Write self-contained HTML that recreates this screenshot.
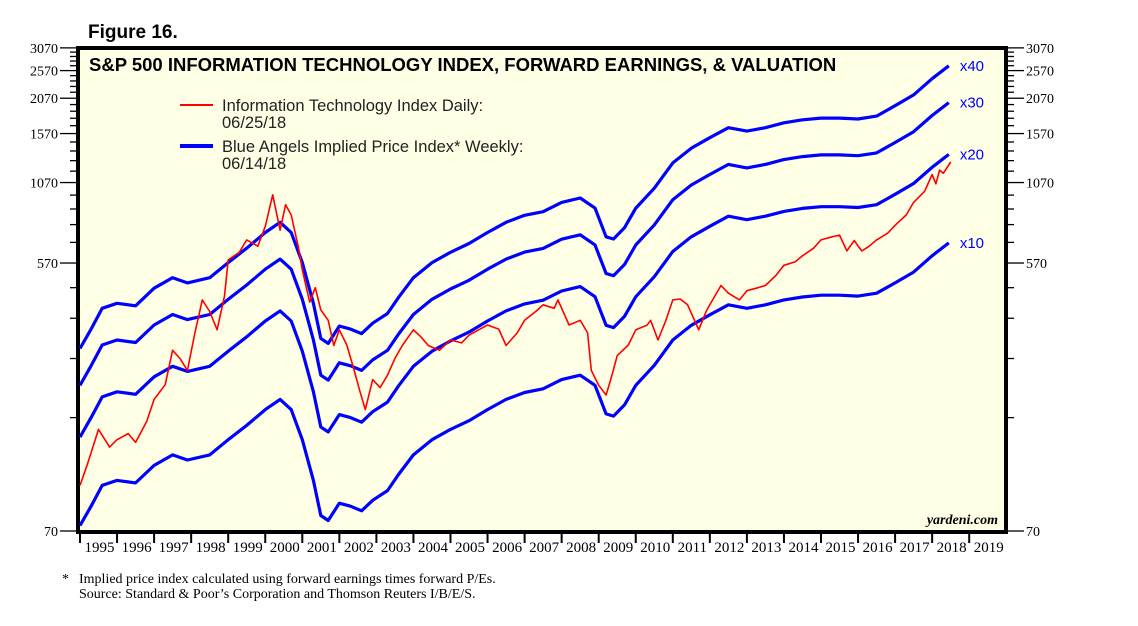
<!DOCTYPE html>
<html><head><meta charset="utf-8"><style>
body{margin:0;background:#fff;}
svg text{font-family:"Liberation Sans",sans-serif;}
.serif{font-family:"Liberation Serif",serif !important;}
</style></head><body>
<svg width="1138" height="621" viewBox="0 0 1138 621">
<text x="88" y="38" font-size="19" font-weight="bold">Figure 16.</text>
<rect x="78" y="48" width="928" height="484" fill="#ffffe6" stroke="#000" stroke-width="4"/>
<text x="89" y="71" font-size="18.5" font-weight="bold">S&amp;P 500 INFORMATION TECHNOLOGY INDEX, FORWARD EARNINGS, &amp; VALUATION</text>
<g>
<line x1="180" y1="105" x2="213" y2="105" stroke="#f00" stroke-width="2"/>
<text x="222" y="111" font-size="16.5" fill="#222">Information Technology Index Daily:</text>
<text x="222" y="128" font-size="16.5" fill="#222">06/25/18</text>
<line x1="180" y1="146" x2="213" y2="146" stroke="#00f" stroke-width="4"/>
<text x="222" y="152" font-size="16.5" fill="#222">Blue Angels Implied Price Index* Weekly:</text>
<text x="222" y="169" font-size="16.5" fill="#222">06/14/18</text>
</g>
<g id="axes"></g>
<g id="series"></g>
<text x="998" y="524" font-size="14" font-style="italic" font-weight="bold" text-anchor="end" class="serif">yardeni.com</text>
<text x="62" y="583" font-size="14" class="serif">*</text>
<text x="79" y="583" font-size="14" class="serif">Implied price index calculated using forward earnings times forward P/Es.</text>
<text x="79" y="598" font-size="14" class="serif">Source: Standard &amp; Poor’s Corporation and Thomson Reuters I/B/E/S.</text>
</svg>
<script>
const yTickLabels=[70,570,1070,1570,2070,2570,3070];
const xYears=[1995,1996,1997,1998,1999,2000,2001,2002,2003,2004,2005,2006,2007,2008,2009,2010,2011,2012,2013,2014,2015,2016,2017,2018,2019];
const multiples=[10,20,30,40];
const earnT=[1995.0,1995.3,1995.6,1996.0,1996.5,1997.0,1997.5,1997.9,1998.5,1999.0,1999.5,2000.0,2000.4,2000.7,2001.0,2001.3,2001.5,2001.7,2002.0,2002.3,2002.6,2002.9,2003.3,2003.6,2004.0,2004.5,2005.0,2005.5,2006.0,2006.5,2007.0,2007.5,2008.0,2008.5,2008.9,2009.2,2009.4,2009.7,2010.0,2010.5,2011.0,2011.5,2012.0,2012.5,2013.0,2013.5,2014.0,2014.5,2015.0,2015.5,2016.0,2016.5,2017.0,2017.5,2018.0,2018.45];
const earnV=[7.3,8.5,10.0,10.4,10.2,11.7,12.7,12.2,12.7,14.3,16.0,18.1,19.6,18.1,14.3,10.4,7.9,7.6,8.7,8.5,8.2,8.9,9.6,10.9,12.7,14.3,15.5,16.6,18.1,19.6,20.7,21.3,22.9,23.7,21.9,17.5,17.2,18.8,21.9,25.6,31.2,35.0,38.0,41.1,40.0,41.1,42.7,43.7,44.3,44.3,44.0,45.0,48.8,53.1,60.3,66.7];
const itT=[1995.0,1995.2,1995.5,1995.8,1996.0,1996.3,1996.5,1996.8,1997.0,1997.3,1997.5,1997.7,1997.9,1998.1,1998.3,1998.5,1998.7,1998.9,1999.0,1999.3,1999.5,1999.8,2000.0,2000.2,2000.4,2000.55,2000.7,2000.9,2001.0,2001.2,2001.35,2001.5,2001.7,2001.85,2002.0,2002.2,2002.4,2002.55,2002.7,2002.9,2003.1,2003.3,2003.5,2003.7,2004.0,2004.2,2004.4,2004.7,2005.0,2005.3,2005.5,2005.8,2006.0,2006.3,2006.5,2006.8,2007.0,2007.3,2007.5,2007.8,2007.9,2008.2,2008.5,2008.7,2008.8,2009.0,2009.2,2009.35,2009.5,2009.8,2010.0,2010.3,2010.4,2010.6,2010.8,2011.0,2011.2,2011.4,2011.7,2011.9,2012.0,2012.3,2012.5,2012.8,2013.0,2013.3,2013.5,2013.8,2014.0,2014.3,2014.5,2014.8,2015.0,2015.3,2015.5,2015.7,2015.9,2016.0,2016.1,2016.3,2016.5,2016.8,2017.0,2017.3,2017.5,2017.8,2018.0,2018.1,2018.2,2018.3,2018.5];
const itV=[100,118,155,135,143,150,140,165,196,220,288,270,246,330,427,390,338,440,584,620,683,650,760,972,737,900,830,640,540,420,470,395,364,299,338,300,246,210,181,229,215,237,270,299,338,320,299,288,312,305,324,340,351,340,299,330,364,390,411,400,427,351,364,330,246,219,203,235,276,300,338,350,364,312,360,427,430,411,338,390,411,478,450,427,459,470,478,520,560,575,603,640,683,700,709,627,680,652,627,650,683,720,766,830,916,1000,1139,1060,1180,1150,1257];
const NS="http://www.w3.org/2000/svg";
const X0=80,YW=37.05,YB=531,K=0.007826;
function xs(t){return X0+(t-1995)*YW;}
function ys(v){return YB-Math.log(v/70)/K;}
function mk(tag,attrs,parent){const e=document.createElementNS(NS,tag);for(const k in attrs)e.setAttribute(k,attrs[k]);parent.appendChild(e);return e;}
const ax=document.getElementById('axes');
for(let v=70;v<=3070;v+=100){
  const y=ys(v);const major=(v-70)%500===0;
  const lt=mk('line',{x1:major?60:70,y1:y,x2:76,y2:y,stroke:'#000','stroke-width':1.3},ax);
  
  
  const rt=mk('line',{x1:1008,y1:y,x2:major?1024:1014,y2:y,stroke:'#000','stroke-width':1.3},ax);
  
  
}
yTickLabels.forEach(v=>{
  const y=ys(v);
  const a=mk('text',{x:58,y:y+5,'font-size':14,'text-anchor':'end',class:'serif'},ax);a.textContent=v;
  
  
  const b=mk('text',{x:1026,y:y+5,'font-size':14,class:'serif'},ax);b.textContent=v;
  
  
});
xYears.forEach(yr=>{
  const x=xs(yr);
  const t=mk('line',{x1:x,y1:532,x2:x,y2:543,stroke:'#000','stroke-width':2},ax);
  
  
  const l=mk('text',{x:x+YW/2+1,y:552,'font-size':15,'text-anchor':'middle',class:'serif'},ax);l.textContent=yr;
  
  
});
const sg=document.getElementById('series');
multiples.forEach(m=>{
  const d=earnT.map((t,i)=>(i?'L':'M')+xs(t).toFixed(1)+','+ys(earnV[i]*m).toFixed(1)).join('');
  const p=mk('path',{d:d,fill:'none',stroke:'#00f','stroke-width':3.2,'stroke-linejoin':'round'},sg);
  
  
  const last=earnT.length-1;
  const lb=mk('text',{x:xs(earnT[last])+11,y:ys(earnV[last]*m)+5,'font-size':15,fill:'#00f'},sg);lb.textContent='x'+m;
  
  
});
const rd=itT.map((t,i)=>(i?'L':'M')+xs(t).toFixed(1)+','+ys(itV[i]).toFixed(1)).join('');
const rp=mk('path',{d:rd,fill:'none',stroke:'#f00','stroke-width':1.6,'stroke-linejoin':'round'},sg);


</script>
</body></html>
